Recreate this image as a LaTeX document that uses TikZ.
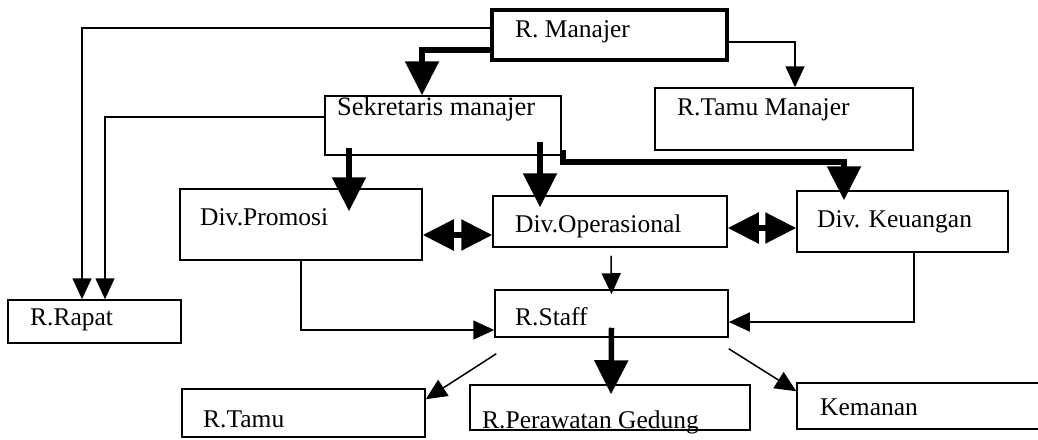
\documentclass[tikz,border=0pt]{standalone}
\usepackage{fontspec}
\setmainfont{Liberation Serif}
\usetikzlibrary{arrows.meta,calc}
\begin{document}
\begin{tikzpicture}[x=1pt,y=-1pt,
  box/.style={draw,line width=1.5pt,inner sep=0pt},
  mbox/.style={draw,line width=4.5pt,inner sep=0pt},
  lbl/.style={anchor=base west,inner sep=0pt,font=\fontsize{25.5}{28}\selectfont},
  tarr/.style={line width=1.5pt,-{Triangle[width=19pt,length=21pt]}},
  karr/.style={line width=5.5pt,-{Triangle[width=33pt,length=34pt]}},
  darr/.style={line width=5.5pt,{Triangle[width=30pt,length=31pt]}-{Triangle[width=30pt,length=31pt]}}]
\clip (0,0) rectangle (1038,439);
% boxes
\node[mbox,minimum width=235pt,minimum height=50pt] (mgr) at (609.5,35) {};
\node[box,minimum width=236pt,minimum height=59pt] (sek) at (443,125.5) {};
\node[box,minimum width=258pt,minimum height=62pt] (tamum) at (784,119) {};
\node[box,minimum width=242pt,minimum height=71pt] (prom) at (301,224.5) {};
\node[box,minimum width=234pt,minimum height=51pt] (ops) at (610,221.5) {};
\node[box,minimum width=211pt,minimum height=61pt] (keu) at (902.5,221.5) {};
\node[box,minimum width=173pt,minimum height=43pt] (rapat) at (94.5,321.5) {};
\node[box,minimum width=233pt,minimum height=47pt] (staff) at (611.5,313.5) {};
\node[box,minimum width=243pt,minimum height=48pt] (tamu) at (303.5,413) {};
\node[box,minimum width=280pt,minimum height=45pt] (rawat) at (610,407.5) {};
\node[box,minimum width=262pt,minimum height=46pt] (keman) at (928,406) {};
% labels
\node[lbl] (mgrt) at (515,37) {R. Manajer};
\node[lbl,font=\fontsize{26.5}{29}\selectfont] (sekt) at (337,115) {Sekretaris manajer};
\node[lbl] (tamumt) at (677,115) {R.Tamu Manajer};
\node[lbl] (promt) at (200,225) {Div.Promosi};
\node[lbl] (opst) at (515,232) {Div.Operasional};
\node[lbl] (keut) at (817,227) {Div. Keuangan};
\node[lbl] (rapatt) at (30,325) {R.Rapat};
\node[lbl] (stafft) at (515,325) {R.Staff};
\node[lbl] (tamut) at (203,427) {R.Tamu};
\node[lbl] (rawatt) at (482,428) {R.Perawatan Gedung};
\node[lbl] (kemant) at (820,415) {Kemanan};
% connectors
\draw[tarr] (mgr.west |- 0,28) -| ([xshift=-12.5pt]rapat.north);
\draw[karr] (mgr.west |- 0,50) -| ([xshift=-21pt]sek.north);
\draw[tarr] (sek.west |- 0,117) -| ([xshift=10.5pt]rapat.north);
\draw[tarr] (mgr.east |- 0,42) -| ([xshift=11pt]tamum.north);
\draw[karr] ($(sek.south -| 349,0)+(0,-8)$) -- ($(prom.north -| 349,0)+(0,23)$);
\draw[karr] ($(sek.south -| 540,0)+(0,-14)$) -- ($(ops.north -| 540,0)+(0,12)$);
\draw[karr] ($(sek.south east)+(1,-6)$) |- (844,162) -- ($(keu.north -| 844,0)+(0,10)$);
\draw[darr] (prom.east |- 0,235) -- (ops.west |- 0,235);
\draw[darr] (ops.east |- 0,228) -- (keu.west |- 0,228);
\draw[tarr] ($(ops.south)+(1,8)$) -- ($(staff.north)+(0,5)$);
\draw[tarr] (prom.south) |- (staff.west |- 0,330);
\draw[tarr] (914,0 |- keu.south) |- (staff.east |- 0,322);
\draw[karr] ($(staff.south)+(0,-10)$) -- ($(rawat.north)+(1,10)$);
\draw[tarr] ($(staff.south west)+(2,16)$) -- ($(tamu.north east)+(0,11)$);
\draw[tarr] ($(staff.south east)+(0,11)$) -- ($(keman.north west)+(0,9)$);
\end{tikzpicture}
\end{document}
